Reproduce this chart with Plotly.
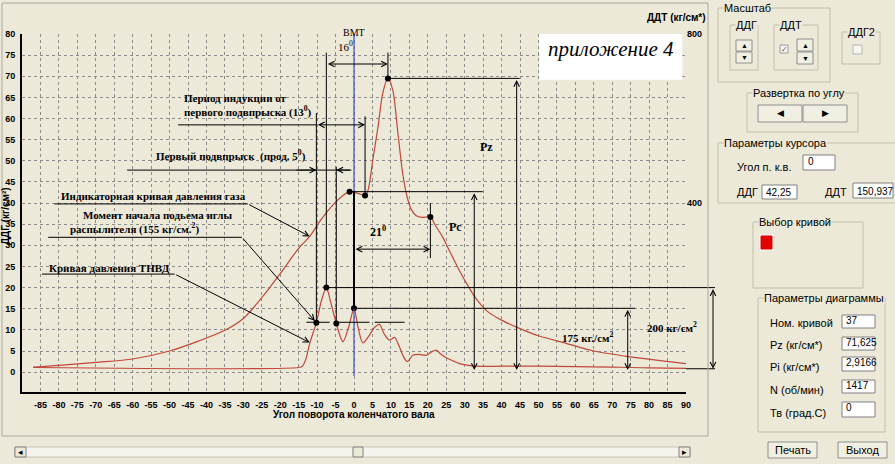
import plotly.graph_objects as go

# ---------------- data ----------------
angle_gas = [-87, -80, -70, -60, -50, -42, -35, -30, -25, -20, -15, -12, -9, -6, -3,
             -1.2, 1, 3, 3.8, 5.1, 6.5, 7.8, 9.2, 10.5, 11.9, 13.2, 14.4, 15.5, 16.9, 18.5,
             20.7, 22, 24, 26, 28, 30.5, 33, 36, 40, 45, 50, 57.5, 65, 75, 83, 90]
ddg = [1.2, 1.6, 2.3, 3.1, 5.0, 7.4, 9.9, 12.7, 17.6, 23.3, 29.3, 32.1, 36.0, 39.3, 41.8,
       42.7, 42.3, 41.8, 43.0, 50.2, 58.0, 66.0, 69.5, 66.8, 56.6, 47.0, 41.5, 38.5, 37.0, 36.6,
       36.7, 34.8, 32.0, 28.5, 25.0, 21.0, 17.5, 14.5, 12.3, 10.3, 8.6, 6.8, 5.0, 3.6, 2.7, 2.0]

angle_fuel = [-87, -15, -14, -13, -12, -10.2, -8.8, -7.5, -6.3, -4.8, -3, -1.5, 0, 1, 2.4,
              4, 5.5, 6.9, 8.2, 9.6, 11, 12.3, 13.5, 14.5, 15.9, 17.5, 19.6, 21, 22.3, 23.5,
              25, 27, 28.6, 30.4, 33, 40, 50, 60, 70, 75, 80, 90]
ddt = [11, 11, 14, 32, 68, 117, 170, 200, 165, 115, 72, 105, 151, 110, 69,
       85, 105, 113, 90, 76, 82, 60, 35, 25, 40, 42, 40, 48, 52, 43,
       34, 26, 20, 17, 14, 14, 14, 13, 12, 11, 10, 9]

gas_pts_x = [-1.2, 3.0, 9.2, 20.7]
gas_pts_y = [42.7, 41.8, 69.5, 36.7]
fuel_pts_x = [-10.2, -7.5, -4.8, 0.0]
fuel_pts_y = [117, 200, 115, 151]

x_ticks = list(range(-85, 91, 5))
x_tick_labels = [str(v) for v in x_ticks]
y_ticks = list(range(0, 81, 5))
y2_ticks = [400, 800]

# ---------------- geometry helpers ----------------
W, H = 895, 464
L, R, T, B = 22, 686, 34, 392
XR = [-90, 90]
YR = [-4.7, 80]
Y2R = [YR[0] * 10, YR[1] * 10]

def px(x):
    return (x - L) / (R - L)

def py(y):
    return (B - y) / (B - T)

def dpx(deg):  # data -> paper x
    return (deg - XR[0]) / (XR[1] - XR[0])

def dpy(v):
    return (v - YR[0]) / (YR[1] - YR[0])

BG = "#ECE9D8"
CURVE = "#c0473a"
SERIF = "Liberation Serif, Times New Roman, serif"
NARROW = "Liberation Sans Narrow, Liberation Sans, Arial, sans-serif"
UI = "Liberation Sans, Arial, sans-serif"

shapes = []
annos = []

def seg(x0, y0, x1, y1, w=1, color="black", dash=None):
    d = dict(type="line", xref="x", yref="y", x0=x0, y0=y0, x1=x1, y1=y1,
             line=dict(color=color, width=w))
    if dash:
        d["line"]["dash"] = dash
    shapes.append(d)

def pseg(x0, y0, x1, y1, w=1, color="black"):
    shapes.append(dict(type="line", xref="paper", yref="paper", x0=x0, y0=y0, x1=x1, y1=y1,
                       line=dict(color=color, width=w)))

def arrow(xh, yh, xt, yt, both=False):
    annos.append(dict(x=xh, y=yh, ax=xt, ay=yt, xref="x", yref="y", axref="x", ayref="y",
                      text="", showarrow=True, arrowhead=5, arrowsize=1.1, arrowwidth=1,
                      arrowcolor="black", arrowside="end+start" if both else "end",
                      startarrowhead=5, startarrowsize=1.1))

def txt(x, y, s, size=11, xanchor="left", font=SERIF, bold=True, italic=False, color="black"):
    annos.append(dict(x=x, y=y, xref="x", yref="y", text=s, showarrow=False,
                      xanchor=xanchor, yanchor="middle",
                      font=dict(family=font, size=size, color=color,
                                weight="bold" if bold else "normal",
                                style="italic" if italic else "normal")))

def ptxt(x, y, s, size=11, xanchor="left", font=UI, bold=False, bg=None, color="black", angle=0):
    d = dict(x=px(x), y=py(y), xref="paper", yref="paper", text=s, showarrow=False,
             xanchor=xanchor, yanchor="middle", textangle=angle,
             font=dict(family=font, size=size, color=color, weight="bold" if bold else "normal"))
    if bg:
        d["bgcolor"] = bg
        d["borderpad"] = 0
    annos.append(d)

def prect(x0, y0, x1, y1, fill=None, line="#808080", w=1):
    shapes.append(dict(type="rect", xref="paper", yref="paper",
                       x0=px(x0), x1=px(x1), y0=py(y0), y1=py(y1),
                       fillcolor=fill if fill else "rgba(0,0,0,0)",
                       line=dict(color=line, width=w)))

# ---------------- chart annotations ----------------
g_cur0, g_cur1, g_pz, g_pc = list(zip(gas_pts_x, gas_pts_y))
f1, fpk, f2, f0 = [(x, y / 10) for x, y in zip(fuel_pts_x, fuel_pts_y)]

# white label box
shapes.append(dict(type="rect", xref="x", yref="y", x0=50.2, x1=89.0, y0=69.2, y1=80,
                   fillcolor="white", line=dict(width=0)))
txt(69.7, 76.4, "приложение 4", size=21, xanchor="center", bold=False, italic=True)

# VMT
seg(0, -0.9, 0, 80, w=1.2, color="#3a4fd0")
annos.append(dict(x=0, y=py(25), xref="x", yref="paper", text="ВМТ", showarrow=False,
                  font=dict(family=SERIF, size=10, color="black")))

# 16 deg
seg(fpk[0], fpk[1], fpk[0], 75.6)
seg(g_pz[0], g_pz[1], g_pz[0], 75.6)
arrow(g_pz[0], 72.9, fpk[0], 72.9, both=True)
txt(-2.4, 77.2, "16<sup>0</sup>", size=11, xanchor="center", bold=False)

# Pz
seg(g_pz[0], g_pz[1], 44.9, g_pz[1])
arrow(44.1, 0.5, 44.1, g_pz[1], both=True)
txt(36, 53.3, "Pz", size=12, xanchor="center")

# Pc level
seg(g_cur0[0], g_cur0[1], 34.9, g_cur0[1])
arrow(32.6, 0.5, 32.6, g_cur0[1], both=True)
txt(27.4, 34.4, "Pc", size=12, xanchor="center")

# 21 deg
seg(g_pc[0], 27, g_pc[0], 40)
arrow(g_pc[0], 29.1, 0, 29.1, both=True)
txt(6.6, 33.2, "21<sup>0</sup>", size=12, xanchor="center")

# black line at 0
seg(0, f0[1], 0, g_cur0[1], w=2)

# 175
seg(f0[0], f0[1], 76.2, f0[1])
arrow(74.2, 0.5, 74.2, f0[1], both=True)
txt(63.4, 8.4, "175 кг./см<sup>2</sup>", size=11, xanchor="center")

# 200 (extends beyond plot)
pseg(dpx(fpk[0]), dpy(fpk[1]), px(715), dpy(fpk[1]))
pseg(1.0, dpy(0.8), px(715), dpy(0.8))
ppx_per_unit = (B - T) / (YR[1] - YR[0])
annos.append(dict(x=px(713), y=dpy(0.8), xref="paper", yref="paper",
                  ax=0, ay=-(fpk[1] - 0.8) * ppx_per_unit, text="", showarrow=True,
                  arrowhead=5, startarrowhead=5, arrowside="end+start", arrowsize=1.1,
                  arrowwidth=1, arrowcolor="black"))
txt(86.3, 10.7, "200 кг/см<sup>2</sup>", size=11, xanchor="center")

# verticals from fuel dots
seg(f1[0], f1[1], f1[0], 61.3)
seg(f2[0], f2[1], f2[0], 48.6)
seg(g_cur1[0], g_cur1[1], g_cur1[0], 60.5)

# induction period
seg(-47.7, 58.5, f1[0], 58.5)
arrow(g_cur1[0], 58.5, f1[0], 58.5, both=True)
txt(-46.6, 64.8, "Период индукции от", size=11)
txt(-46.6, 61.6, "первого подвпрыска (13<sup>0</sup>)", size=11)

# first injection
seg(-61.5, 47.8, -0.7, 47.8)
arrow(f1[0], 47.8, -16, 47.8)
arrow(f2[0], 47.8, -0.7, 47.8)
txt(-54.2, 51.3, "Первый подвпрыск  (прод. 5<sup>0</sup>)", size=11)

# indicator curve label
txt(-80.0, 41.6, "Индикаторная кривая давления газа", size=11)
seg(-81.2, 39.8, -28.8, 39.8)
arrow(-12.0, 32.1, -28.8, 39.8)

# needle lift label
txt(-73.9, 37.2, "Момент начала подьема иглы", size=11)
txt(-77.6, 33.9, "распылителя (155 кг/см.<sup>2</sup>)", size=11)
seg(-82.9, 31.9, -30.4, 31.9)
arrow(f1[0] - 0.4, f1[1] + 0.4, -30.4, 31.9)

# fuel pump curve label
txt(-83.1, 24.7, "Кривая давления ТНВД", size=11)
seg(-84.6, 23.2, -48.6, 23.2)
arrow(-12.0, 7.0, -48.6, 23.2)

# short horizontal level line
seg(-12.9, 11.8, -6.6, 11.8)
seg(-5.3, 11.8, 4.2, 11.8)
seg(5.6, 11.8, 13.7, 11.8)

# ---------------- window / GUI ----------------
prect(2, 3, 708, 436, line="#ACA899")
prect(15, 447, 690, 457, fill="#F4F3EC", line="#C9C6B6")
prect(15, 447, 26, 457, fill=BG, line="#808080")
prect(679, 447, 690, 457, fill=BG, line="#808080")
prect(353, 447, 363, 457, fill=BG, line="#808080")
ptxt(20.5, 452, "◂", size=9, xanchor="center")
ptxt(684.5, 452, "▸", size=9, xanchor="center")

GB = "#C2BFAC"
groups = [
    ("Масштаб", 718, 8, 830, 82),
    ("ДДГ", 730, 25, 758, 70),
    ("ДДТ", 774, 25, 818, 70),
    ("ДДГ2", 842, 32, 880, 64),
    ("Развертка по углу", 747, 93, 858, 132),
    ("Параметры курсора", 718, 143, 900, 203),
    ("Выбор кривой", 753, 222, 863, 288),
    ("Параметры диаграммы", 758, 298, 885, 432),
]
for title, x0, y0, x1, y1 in groups:
    prect(x0, y0, x1, y1, line=GB)
    ptxt(x0 + 5, y0, title, size=11, bg=BG)

for (x0, y0, x1, y1, g) in [(736, 40, 752, 51, "▲"), (736, 52, 752, 63, "▼"),
                            (797, 39, 813, 51, "▲"), (797, 52, 813, 64, "▼")]:
    prect(x0, y0, x1, y1, fill="#F1EFE2", line="#8E8F8F")
    ptxt((x0 + x1) / 2, (y0 + y1) / 2, g, size=7, xanchor="center")
prect(780, 45, 788, 53, fill="#F6F5EE", line="#9A9A9A")
ptxt(784, 49, "✓", size=8, xanchor="center", color="#555")
prect(853, 45, 862, 54, fill="#F6F5EE", line="#B5B5B5")
prect(758, 105, 802, 122, fill="#F1EFE2", line="#8E8F8F")
prect(803, 105, 847, 122, fill="#F1EFE2", line="#8E8F8F")
ptxt(780, 113.5, "◀", size=9, xanchor="center")
ptxt(825, 113.5, "▶", size=9, xanchor="center")

ptxt(735, 167, "Угол п. к.в.", size=11)
prect(803, 155, 835, 170, fill="white", line="#808080")
ptxt(806, 161, "0", size=10)
ptxt(735, 192, "ДДГ", size=11)
prect(762, 185, 797, 199, fill="white", line="#808080")
ptxt(764, 192, "42,25", size=10)
ptxt(823, 192, "ДДТ", size=11)
prect(853, 183, 893, 198, fill="white", line="#808080")
ptxt(855, 191, "150,937", size=10)

prect(759, 234, 774, 251, fill="white", line="#E8E6DA")
prect(761, 236, 772, 249, fill="#E00000", line="#E00000")

labels = ["Ном. кривой", "Pz (кг/см*)", "Pi (кг/см*)", "N (об/мин)", "Тв (град.С)"]
values = ["37", "71,625", "2,9166", "1417", "0"]
ly = [323, 345, 367, 390, 413]
boxes = [(315, 328), (337, 350), (357, 371), (380, 393), (402, 417)]
for lab, val, yy, (b0, b1) in zip(labels, values, ly, boxes):
    ptxt(768, yy, lab, size=11)
    prect(842, b0, 875, b1, fill="white", line="#808080")
    ptxt(844, b0 + 5, val, size=10)

for (x0, x1, s) in [(768, 817, "Печать"), (838, 887, "Выход")]:
    prect(x0, 442, x1, 458, fill="#F1EFE2", line="#8E8F8F")
    ptxt((x0 + x1) / 2, 450, s, size=11, xanchor="center")

ptxt(5, 216, "ДДГ (кг/см²)", size=10, xanchor="center", font=NARROW, bold=True, angle=-90)
ptxt(676, 17, "ДДТ (кг/см*)", size=10, xanchor="center", font=NARROW, bold=True)
ptxt(354, 415, "Угол поворота коленчатого вала", size=10, xanchor="center", font=NARROW, bold=True)

# ---------------- figure ----------------
fig = go.Figure()
fig.add_trace(go.Scatter(x=angle_gas, y=ddg, mode="lines", yaxis="y",
                         line=dict(color=CURVE, width=1.2, shape="spline", smoothing=0.8),
                         hoverinfo="skip"))
fig.add_trace(go.Scatter(x=angle_fuel, y=ddt, mode="lines", yaxis="y2",
                         line=dict(color=CURVE, width=1.2, shape="spline", smoothing=0.8),
                         hoverinfo="skip"))
fig.add_trace(go.Scatter(x=gas_pts_x, y=gas_pts_y, mode="markers", yaxis="y",
                         marker=dict(color="black", size=6), hoverinfo="skip"))
fig.add_trace(go.Scatter(x=fuel_pts_x, y=fuel_pts_y, mode="markers", yaxis="y2",
                         marker=dict(color="black", size=6), hoverinfo="skip"))

tickfont = dict(family=NARROW, size=9, color="black", weight="bold")
fig.update_layout(
    width=W, height=H,
    margin=dict(l=L, r=W - R, t=T, b=H - B, pad=0, autoexpand=False),
    paper_bgcolor=BG, plot_bgcolor=BG,
    showlegend=False,
    xaxis=dict(range=XR, tickvals=x_ticks, ticktext=x_tick_labels, showgrid=True,
               gridcolor="#8c8c8c", griddash="3px,3px", gridwidth=1, zeroline=False,
               showline=True, linecolor="black", linewidth=2, ticks="", ticklabelstandoff=3,
               tickfont=tickfont, tickangle=0, automargin=False),
    yaxis=dict(range=YR, tickvals=y_ticks, showgrid=True, gridcolor="#8c8c8c",
               griddash="3px,3px", gridwidth=1, zeroline=False, showline=True,
               linecolor="black", linewidth=2, ticks="", ticklabelstandoff=3,
               tickfont=tickfont, automargin=False),
    yaxis2=dict(range=Y2R, tickvals=y2_ticks, overlaying="y", side="right",
                showgrid=False, zeroline=False, showline=False, ticks="", automargin=False,
                tickfont=dict(family=NARROW, size=9, color="black", weight="bold")),
    shapes=shapes,
    annotations=annos,
)

fig.write_html("out.html", config={"displayModeBar": False},
               post_script="document.body.style.margin='0px';document.body.style.overflow='hidden';")
